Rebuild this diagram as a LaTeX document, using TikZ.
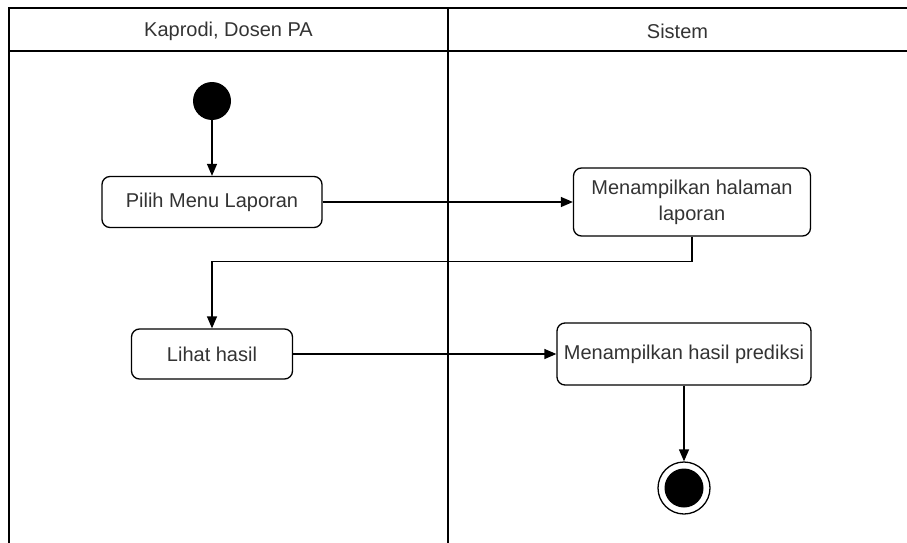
\documentclass[tikz,border=0pt]{standalone}
\usepackage{fontspec}
\setmainfont{Liberation Sans}
\usetikzlibrary{arrows.meta}

\begin{document}
\begin{tikzpicture}[x=1pt, y=-1pt,
    every node/.style={font=\fontsize{20}{26}\selectfont, text=black!80},
    lane/.style={draw, line width=1.3pt},
    action/.style={draw, rounded corners=8pt, line width=1.3pt, align=center, inner sep=0pt},
    startstate/.style={circle, fill=black, minimum size=38pt, inner sep=0pt},
    endstate/.style={circle, draw, line width=1.3pt, minimum size=52pt, inner sep=0pt,
        path picture={\fill (path picture bounding box.center) circle (19.5pt);}},
    flow/.style={-{Triangle[width=10pt,length=12pt]}, line width=1.3pt, draw}
 ]
\useasboundingbox (0,0) rectangle (907,543);

% swimlanes
\draw[lane] (9,543) |- (907,8);
\draw[lane] (9,51) -- (907,51);
\draw[lane] (448,8) -- (448,543);
\node (L1) at (228.5,31) {Kaprodi, Dosen PA};
\node (L2) at (677.5,31) {Sistem};

% activities
\node [startstate] (S) at (212,101) {};
\node [action, minimum width=220pt, minimum height=51pt] (A1) at (212,202) {Pilih Menu Laporan};
\node [action, minimum width=237pt, minimum height=68pt] (A2) at (692,202) {Menampilkan halaman\\laporan};
\node [action, minimum width=161pt, minimum height=50pt] (A3) at (212,354) {Lihat hasil};
\node [action, minimum width=254pt, minimum height=62pt] (A4) at (684,354) {Menampilkan hasil prediksi};
\node [endstate] (E) at (684,488) {};

% flows
\draw[flow] (S) -- (A1);
\draw[flow] (A1) -- (A2);
\draw[flow] (A2.south) -- ++(0,25) -| (A3.north);
\draw[flow] (A3) -- (A4);
\draw[flow] (A4) -- (E);
\end{tikzpicture}
\end{document}
